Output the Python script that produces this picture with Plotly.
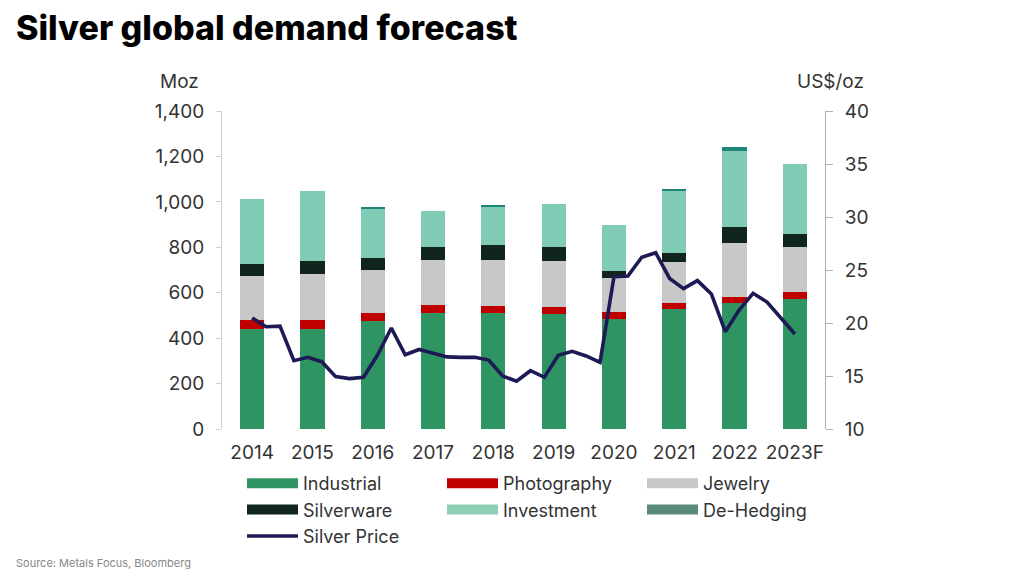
import numpy as np
import plotly.graph_objects as go

years = ["2014", "2015", "2016", "2017", "2018", "2019", "2020", "2021", "2022", "2023F"]
industrial = [440, 442, 475, 512, 509, 508, 486, 527, 556, 574]
photography = [40, 38, 34, 33, 31, 31, 28, 26, 27, 28]
jewelry = [193, 203, 191, 198, 203, 201, 152, 184, 235, 201]
silverware = [53, 57, 53, 58, 68, 63, 30, 39, 73, 54]
investment = [285, 309, 214, 157, 165, 186, 204, 273, 333, 311]
dehedging = [0, 0, 12, 0, 9, 0, 0, 6, 18, 0]

silver_price = [20.47, 19.65, 19.7, 16.45, 16.76, 16.35, 14.94, 14.75, 14.88, 16.95,
                19.53, 17.0, 17.5, 17.14, 16.8, 16.76, 16.76, 16.5, 15.0, 14.5,
                15.5, 14.88, 16.95, 17.33, 16.89, 16.29, 24.37, 24.43, 26.2, 26.63,
                24.2, 23.24, 24.0, 22.74, 19.18, 21.23, 22.8, 21.98, 20.47, 18.96]

left_ticks = [0, 200, 400, 600, 800, 1000, 1200, 1400]
right_ticks = [10, 15, 20, 25, 30, 35, 40]

series = [
    ("Industrial", industrial, "#2e9462", "#2e9462"),
    ("Photography", photography, "#c00000", "#c00000"),
    ("Jewelry", jewelry, "#c8c8c8", "#c8c8c8"),
    ("Silverware", silverware, "#10261c", "#10261c"),
    ("Investment", investment, "#80cbb6", "#8fcfb6"),
    ("De-Hedging", dehedging, "#1f8577", "#5a8a7a"),
]

# plot-area geometry (pixels) used for placing paper-referenced labels
L, T, W, H = 222, 111, 603, 318


def px(x):
    return (x - L) / W


def py(y):
    return (T + H - y) / H


xpos = list(range(len(years)))
fig = go.Figure()
for name, vals, col, lcol in series:
    fig.add_trace(go.Bar(x=xpos, y=vals, name=name, marker=dict(color=col, line=dict(width=0)),
                         width=0.4, showlegend=False, legendgroup=name))

price_x = np.linspace(0, len(years) - 1, len(silver_price))
fig.add_trace(go.Scatter(x=price_x, y=silver_price, yaxis="y2", mode="lines", name="Silver Price",
                         line=dict(color="#1e1a55", width=3.6), showlegend=False))

# legend entries (wide swatches)
for name, vals, col, lcol in series:
    fig.add_trace(go.Scatter(x=[None], y=[None], mode="lines", name=name, legendgroup=name,
                             line=dict(color=lcol, width=10)))
fig.add_trace(go.Scatter(x=[None], y=[None], mode="lines", name="Silver Price",
                         line=dict(color="#1e1a55", width=3.6)))

font_main = "Inter, Roboto, Arial, sans-serif"
fig.update_layout(
    width=1024, height=576,
    margin=dict(l=L, r=1024 - L - W, t=T, b=576 - T - H),
    plot_bgcolor="white", paper_bgcolor="white",
    barmode="stack",
    font=dict(family=font_main, size=19, color="#333333"),
    xaxis=dict(range=[-0.5, len(years) - 0.5], tickvals=xpos, ticktext=years, showgrid=False,
               zeroline=False, showline=False, ticks="", ticklabelstandoff=10,
               tickfont=dict(size=19, color="#333333")),
    yaxis=dict(range=[0, 1400], tickvals=left_ticks, tickformat=",", showgrid=False, zeroline=False,
               showline=True, linecolor="#d0d0d0", linewidth=1, ticks="outside", ticklen=5,
               tickcolor="#d0d0d0", ticklabelstandoff=8, tickfont=dict(size=19, color="#333333")),
    yaxis2=dict(range=[10, 40], tickvals=right_ticks, overlaying="y", side="right", showgrid=False,
                zeroline=False, showline=True, linecolor="#b0b0b0", linewidth=1, ticks="outside",
                ticklen=7, tickcolor="#b0b0b0", ticklabelstandoff=8,
                tickfont=dict(size=19, color="#333333")),
    legend=dict(orientation="h", x=px(242), xanchor="left", y=py(465), yanchor="top",
                entrywidth=134, itemwidth=51, font=dict(size=18, color="#333333"),
                tracegroupgap=0, bgcolor="rgba(0,0,0,0)"),
    showlegend=True,
)

fig.add_annotation(text="Silver global demand forecast", xref="paper", yref="paper",
                   x=px(14), y=py(27), xanchor="left", yanchor="middle", showarrow=False,
                   font=dict(family=font_main, size=34, color="#000000", weight=800))
fig.add_annotation(text="Moz", xref="paper", yref="paper", x=px(158), y=py(81),
                   xanchor="left", yanchor="middle", showarrow=False,
                   font=dict(size=19, color="#333333"))
fig.add_annotation(text="US$/oz", xref="paper", yref="paper", x=px(795), y=py(82),
                   xanchor="left", yanchor="middle", showarrow=False,
                   font=dict(size=19, color="#333333"))
fig.add_annotation(text="Source: Metals Focus, Bloomberg", xref="paper", yref="paper",
                   x=px(14), y=py(563), xanchor="left", yanchor="middle", showarrow=False,
                   font=dict(size=11, color="#888888"))

fig.write_html("out.html", config={"displayModeBar": False},
               post_script="document.body.style.margin='0';")
